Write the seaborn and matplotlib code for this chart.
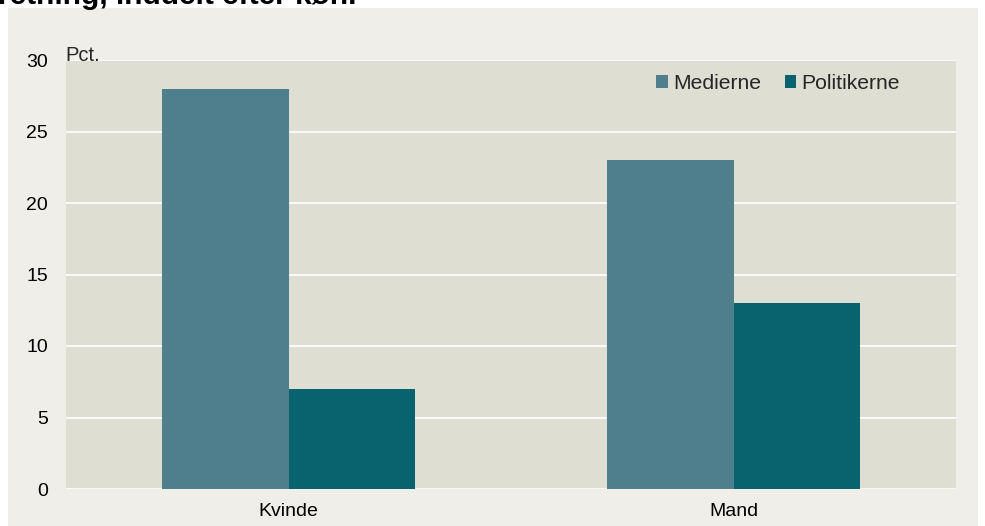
import matplotlib
matplotlib.use("Agg")
import matplotlib.pyplot as plt
import seaborn as sns
import pandas as pd
from matplotlib.patches import Rectangle

categories = ["Kvinde", "Mand"]
series_names = ["Medierne", "Politikerne"]
medierne = [28, 23]
politikerne = [7, 13]
y_ticks = [0, 5, 10, 15, 20, 25, 30]

df = pd.DataFrame({
    "kat": categories * 2,
    "serie": [series_names[0]] * 2 + [series_names[1]] * 2,
    "val": medierne + politikerne,
})

sns.set_style("white")
plt.rcParams['font.family'] = ['Liberation Sans', 'DejaVu Sans']

fig = plt.figure(figsize=(9.85, 5.26), dpi=100)
fig.patch.set_facecolor("white")
fig.patches.append(Rectangle((8/985, 0), (978-8)/985, (526-8)/526,
                             transform=fig.transFigure, facecolor="#EFEEE8",
                             edgecolor="none", zorder=-10))
fig.text(-0.002, 1 - 3.5/526, "retning, inddelt efter køn.", fontsize=21.5,
         fontweight="bold", ha="left", va="baseline", color="black")

ax = fig.add_axes([66/985, 1 - 489/526, (956-66)/985, (489-60)/526])
ax.set_facecolor("#DFDED3")
palette = {"Medierne": "#4F7F8C", "Politikerne": "#08636F"}
sns.barplot(data=df, x="kat", y="val", hue="serie", palette=palette,
            width=0.57, gap=0, ax=ax, saturation=1, edgecolor="none",
            order=categories, hue_order=series_names, zorder=3)

ax.set_ylim(0, 30)
ax.set_xlim(-0.5, 1.5)
ax.set_yticks(y_ticks)
ax.set_yticklabels([str(t) for t in y_ticks])
ax.tick_params(axis="both", length=0, labelsize=14, colors="black")
ax.tick_params(axis="y", pad=13)
ax.tick_params(axis="x", pad=10)
for t in y_ticks:
    ax.axhline(t, color="white", lw=1.2, zorder=1)
for s in ax.spines.values():
    s.set_visible(False)
ax.set_xlabel("")
ax.set_ylabel("")
ax.text(-0.001, 0.997, "Pct.", transform=ax.transAxes, fontsize=14.5,
        ha="left", va="baseline")

leg = ax.legend(loc="upper right", bbox_to_anchor=(0.937, 0.968), ncol=2,
                frameon=False, fontsize=15.2, handlelength=0.55,
                handleheight=0.55, handletextpad=0.25, columnspacing=1.1,
                borderpad=0, borderaxespad=0)

fig.savefig("out.png", dpi=100)
